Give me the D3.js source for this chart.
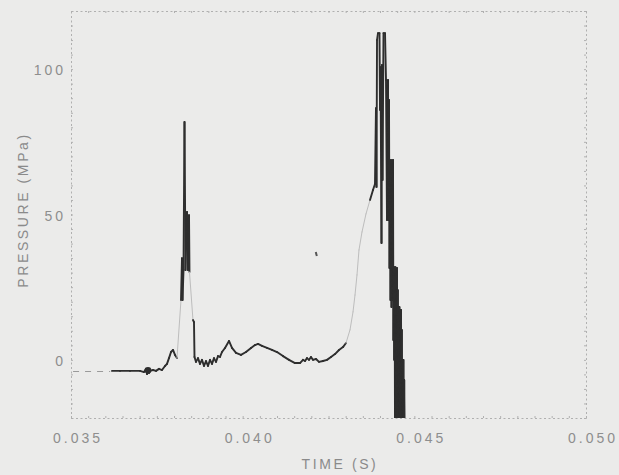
<!DOCTYPE html>
<html>
<head>
<meta charset="utf-8">
<script src="https://cdn.jsdelivr.net/npm/d3@7"></script>
<style>
  html, body { margin: 0; padding: 0; background: #ebebea; }
  svg { display: block; }
  .lbl { font-family: "Liberation Sans", Arial, sans-serif; font-size: 14px; fill: #8e8e8e; letter-spacing: 3px; }
  .title { font-family: "Liberation Sans", Arial, sans-serif; font-size: 14px; fill: #8a8a8a; letter-spacing: 2.6px; }
</style>
</head>
<body>
<script>
// Axis settings
const timeDomain = [0.035, 0.050];
const pressureDomain = [-20, 120];
const timeTicks = [0.035, 0.040, 0.045, 0.050];
const timeTickLabels = ["0.035", "0.040", "0.045", "0.050"];
const pressureTicks = [0, 50, 100];
const pressureTickLabels = ["0", "50", "100"];

// Pre-trigger record (plotted dashed)
const leadTime = [0.03506, 0.03614];
const leadPressure = [-4.0, -4.0];

// Pressure record
const timeS = [
  0.036194, 0.036427, 0.036718, 0.037010, 0.037126, 0.037184, 0.037214, 0.037243, 0.037272, 0.037301,
  0.037388, 0.037476, 0.037563, 0.037651, 0.037738, 0.037796, 0.037854, 0.037913, 0.037971, 0.038029,
  0.038087, 0.038204, 0.038233, 0.038248, 0.038277, 0.038306, 0.038335, 0.038379, 0.038408, 0.038437,
  0.038451, 0.038553, 0.038582, 0.038597, 0.038641, 0.038699, 0.038757, 0.038815, 0.038874, 0.038932,
  0.038990, 0.039049, 0.039107, 0.039165, 0.039223, 0.039282, 0.039340, 0.039398, 0.039485, 0.039602,
  0.039689, 0.039806, 0.039951, 0.040097, 0.040243, 0.040359, 0.040447, 0.040563, 0.040709, 0.040854,
  0.041000, 0.041175, 0.041350, 0.041524, 0.041670, 0.041757, 0.041816, 0.041874, 0.041932, 0.041990,
  0.042049, 0.042136, 0.042223, 0.042340, 0.042456, 0.042573, 0.042689, 0.042806, 0.042922, 0.043010,
  0.043126, 0.043214, 0.043272, 0.043330, 0.043388, 0.043476, 0.043592, 0.043709, 0.043796, 0.043854,
  0.043883, 0.043898, 0.043913, 0.043942, 0.043985, 0.044000, 0.044015, 0.044044, 0.044058, 0.044073,
  0.044102, 0.044146, 0.044175, 0.044204, 0.044233, 0.044248, 0.044262, 0.044277, 0.044291, 0.044306,
  0.044320, 0.044335, 0.044350, 0.044364, 0.044379, 0.044390, 0.044402, 0.044414, 0.044425, 0.044437,
  0.044449, 0.044461, 0.044472, 0.044484, 0.044495, 0.044507, 0.044519, 0.044530, 0.044542, 0.044554,
  0.044565, 0.044577, 0.044589, 0.044600, 0.044612, 0.044624, 0.044635, 0.044647, 0.044659, 0.044670,
  0.044682, 0.044694, 0.044705, 0.044717
];
const pressureMPa = [
  -3.8, -3.8, -3.8, -3.8, -4.2, -3.1, -4.9, -3.1, -4.5, -3.8,
  -3.5, -3.8, -3.1, -3.5, -2.1, -1.4, 0.6, 2.7, 3.4, 1.7,
  0.6, 20.6, 35.0, 20.6, 30.9, 81.8, 30.9, 50.9, 30.9, 49.8,
  30.2, 13.7, 13.0, 1.0, -0.7, 0.6, -1.4, 0.0, -2.1, -0.4,
  -2.1, 0.0, -1.4, 0.6, -0.7, 1.3, 1.0, 2.7, 4.1, 6.5,
  4.1, 2.4, 1.7, 2.7, 4.1, 5.1, 5.5, 4.8, 4.1, 3.4,
  2.7, 1.3, 0.0, -1.1, -1.1, 0.0, -0.4, 0.6, 0.0, 1.0,
  0.0, 0.3, -0.7, -0.4, 0.0, 1.0, 2.0, 3.4, 4.4, 5.8,
  10.3, 16.5, 22.3, 29.2, 37.8, 44.0, 50.2, 55.0, 58.4, 60.5,
  86.6, 59.5, 110.0, 112.4, 112.4, 86.0, 100.7, 40.2, 101.4, 61.9,
  112.4, 112.4, 96.3, 48.1, 96.3, 48.1, 89.4, 31.6, 65.3, 20.6,
  68.8, 18.2, 67.0, 20.6, 68.8, 6.8, 30.9, 0.0, 31.9, -22,
  31.9, -22, 30.9, -22, 31.6, -22, 24.0, -22, 18.2, -22,
  18.2, -22, 17.2, -22, 17.2, -22, 10.3, -22, 0.0, -22,
  0.0, -22, -6.9, -22
];

// Isolated reading
const strayTime = [0.04213, 0.04216];
const strayPressure = [37.1, 35.7];

const W = 619, H = 475;
const plotLeft = 71, plotRight = 586, plotTop = 11, plotBottom = 418;

const x = d3.scaleLinear().domain(timeDomain).range([plotLeft, plotRight]);
const y = d3.scaleLinear().domain(pressureDomain).range([plotBottom, plotTop]);

const svg = d3.select("body").append("svg").attr("width", W).attr("height", H);

svg.append("defs").append("clipPath").attr("id", "plot")
  .append("rect").attr("x", plotLeft).attr("y", plotTop)
  .attr("width", plotRight - plotLeft).attr("height", plotBottom - plotTop);

// Dotted frame with small inward ticks
const frameColor = "#b0b0b0";
const minorY = d3.range(-20, 120.1, 5);
const minorX = d3.range(0.035, 0.05001, 0.0005);

function styleAxis(g) {
  g.select(".domain").attr("stroke", frameColor).attr("stroke-dasharray", "2,2.5").attr("stroke-width", 1);
  g.selectAll(".tick line").attr("stroke", frameColor).attr("stroke-width", 1);
  g.selectAll(".tick text").remove();
}
svg.append("g").attr("transform", `translate(${plotLeft},0)`)
  .call(d3.axisRight(y).tickValues(minorY).tickSize(2).tickSizeOuter(0)).call(styleAxis);
svg.append("g").attr("transform", `translate(${plotRight},0)`)
  .call(d3.axisLeft(y).tickValues(minorY).tickSize(2).tickSizeOuter(0)).call(styleAxis);
svg.append("g").attr("transform", `translate(0,${plotBottom})`)
  .call(d3.axisTop(x).tickValues(minorX).tickSize(2).tickSizeOuter(0)).call(styleAxis);
svg.append("g").attr("transform", `translate(0,${plotTop})`)
  .call(d3.axisBottom(x).tickValues(minorX).tickSize(2).tickSizeOuter(0)).call(styleAxis);

// Tick labels
svg.append("g").selectAll("text").data(pressureTicks).join("text")
  .attr("class", "lbl")
  .attr("x", plotLeft - 5).attr("y", d => y(d) + 6)
  .attr("text-anchor", "end")
  .text((d, i) => pressureTickLabels[i]);

svg.append("g").selectAll("text").data(timeTicks).join("text")
  .attr("class", "lbl")
  .attr("x", d => x(d) + 7).attr("y", 443)
  .attr("text-anchor", "middle")
  .text((d, i) => timeTickLabels[i]);

// Axis titles
svg.append("text").attr("class", "title")
  .attr("x", 340).attr("y", 469).attr("text-anchor", "middle")
  .text("TIME (S)");
svg.append("text").attr("class", "title")
  .attr("transform", "translate(28,210) rotate(-90)").attr("text-anchor", "middle")
  .text("PRESSURE (MPa)");

const plot = svg.append("g").attr("clip-path", "url(#plot)");

// Lead-in trace
plot.append("path")
  .datum(d3.zip(leadTime, leadPressure))
  .attr("fill", "none").attr("stroke", "#9a9a9a").attr("stroke-width", 1.2)
  .attr("stroke-dasharray", "6,6")
  .attr("d", d3.line().x(d => x(d[0])).y(d => y(d[1])));

// Main trace: long, steep pen strokes come out faint
const pts = d3.zip(timeS, pressureMPa);
const segs = d3.pairs(pts).map(([a, b]) => {
  const dx = x(b[0]) - x(a[0]);
  const dy = Math.abs(y(b[1]) - y(a[1]));
  return { a, b, faint: dx > 1.6 && dy > 12 && dy / dx > 2.5 };
});
plot.append("g").selectAll("line").data(segs).join("line")
  .attr("x1", d => x(d.a[0])).attr("y1", d => y(d.a[1]))
  .attr("x2", d => x(d.b[0])).attr("y2", d => y(d.b[1]))
  .attr("stroke", d => d.faint ? "#bdbdbd" : "#2e2e2e")
  .attr("stroke-width", d => d.faint ? 1 : 1.9)
  .attr("stroke-linecap", "round");

// Dark start-up blob
plot.append("circle")
  .attr("cx", x(timeS[7])).attr("cy", y(pressureMPa[7]) + 1.5).attr("r", 3.4)
  .attr("fill", "#2e2e2e");

// Isolated reading
plot.append("path")
  .datum(d3.zip(strayTime, strayPressure))
  .attr("fill", "none").attr("stroke", "#555").attr("stroke-width", 2)
  .attr("d", d3.line().x(d => x(d[0])).y(d => y(d[1])));
</script>
</body>
</html>
